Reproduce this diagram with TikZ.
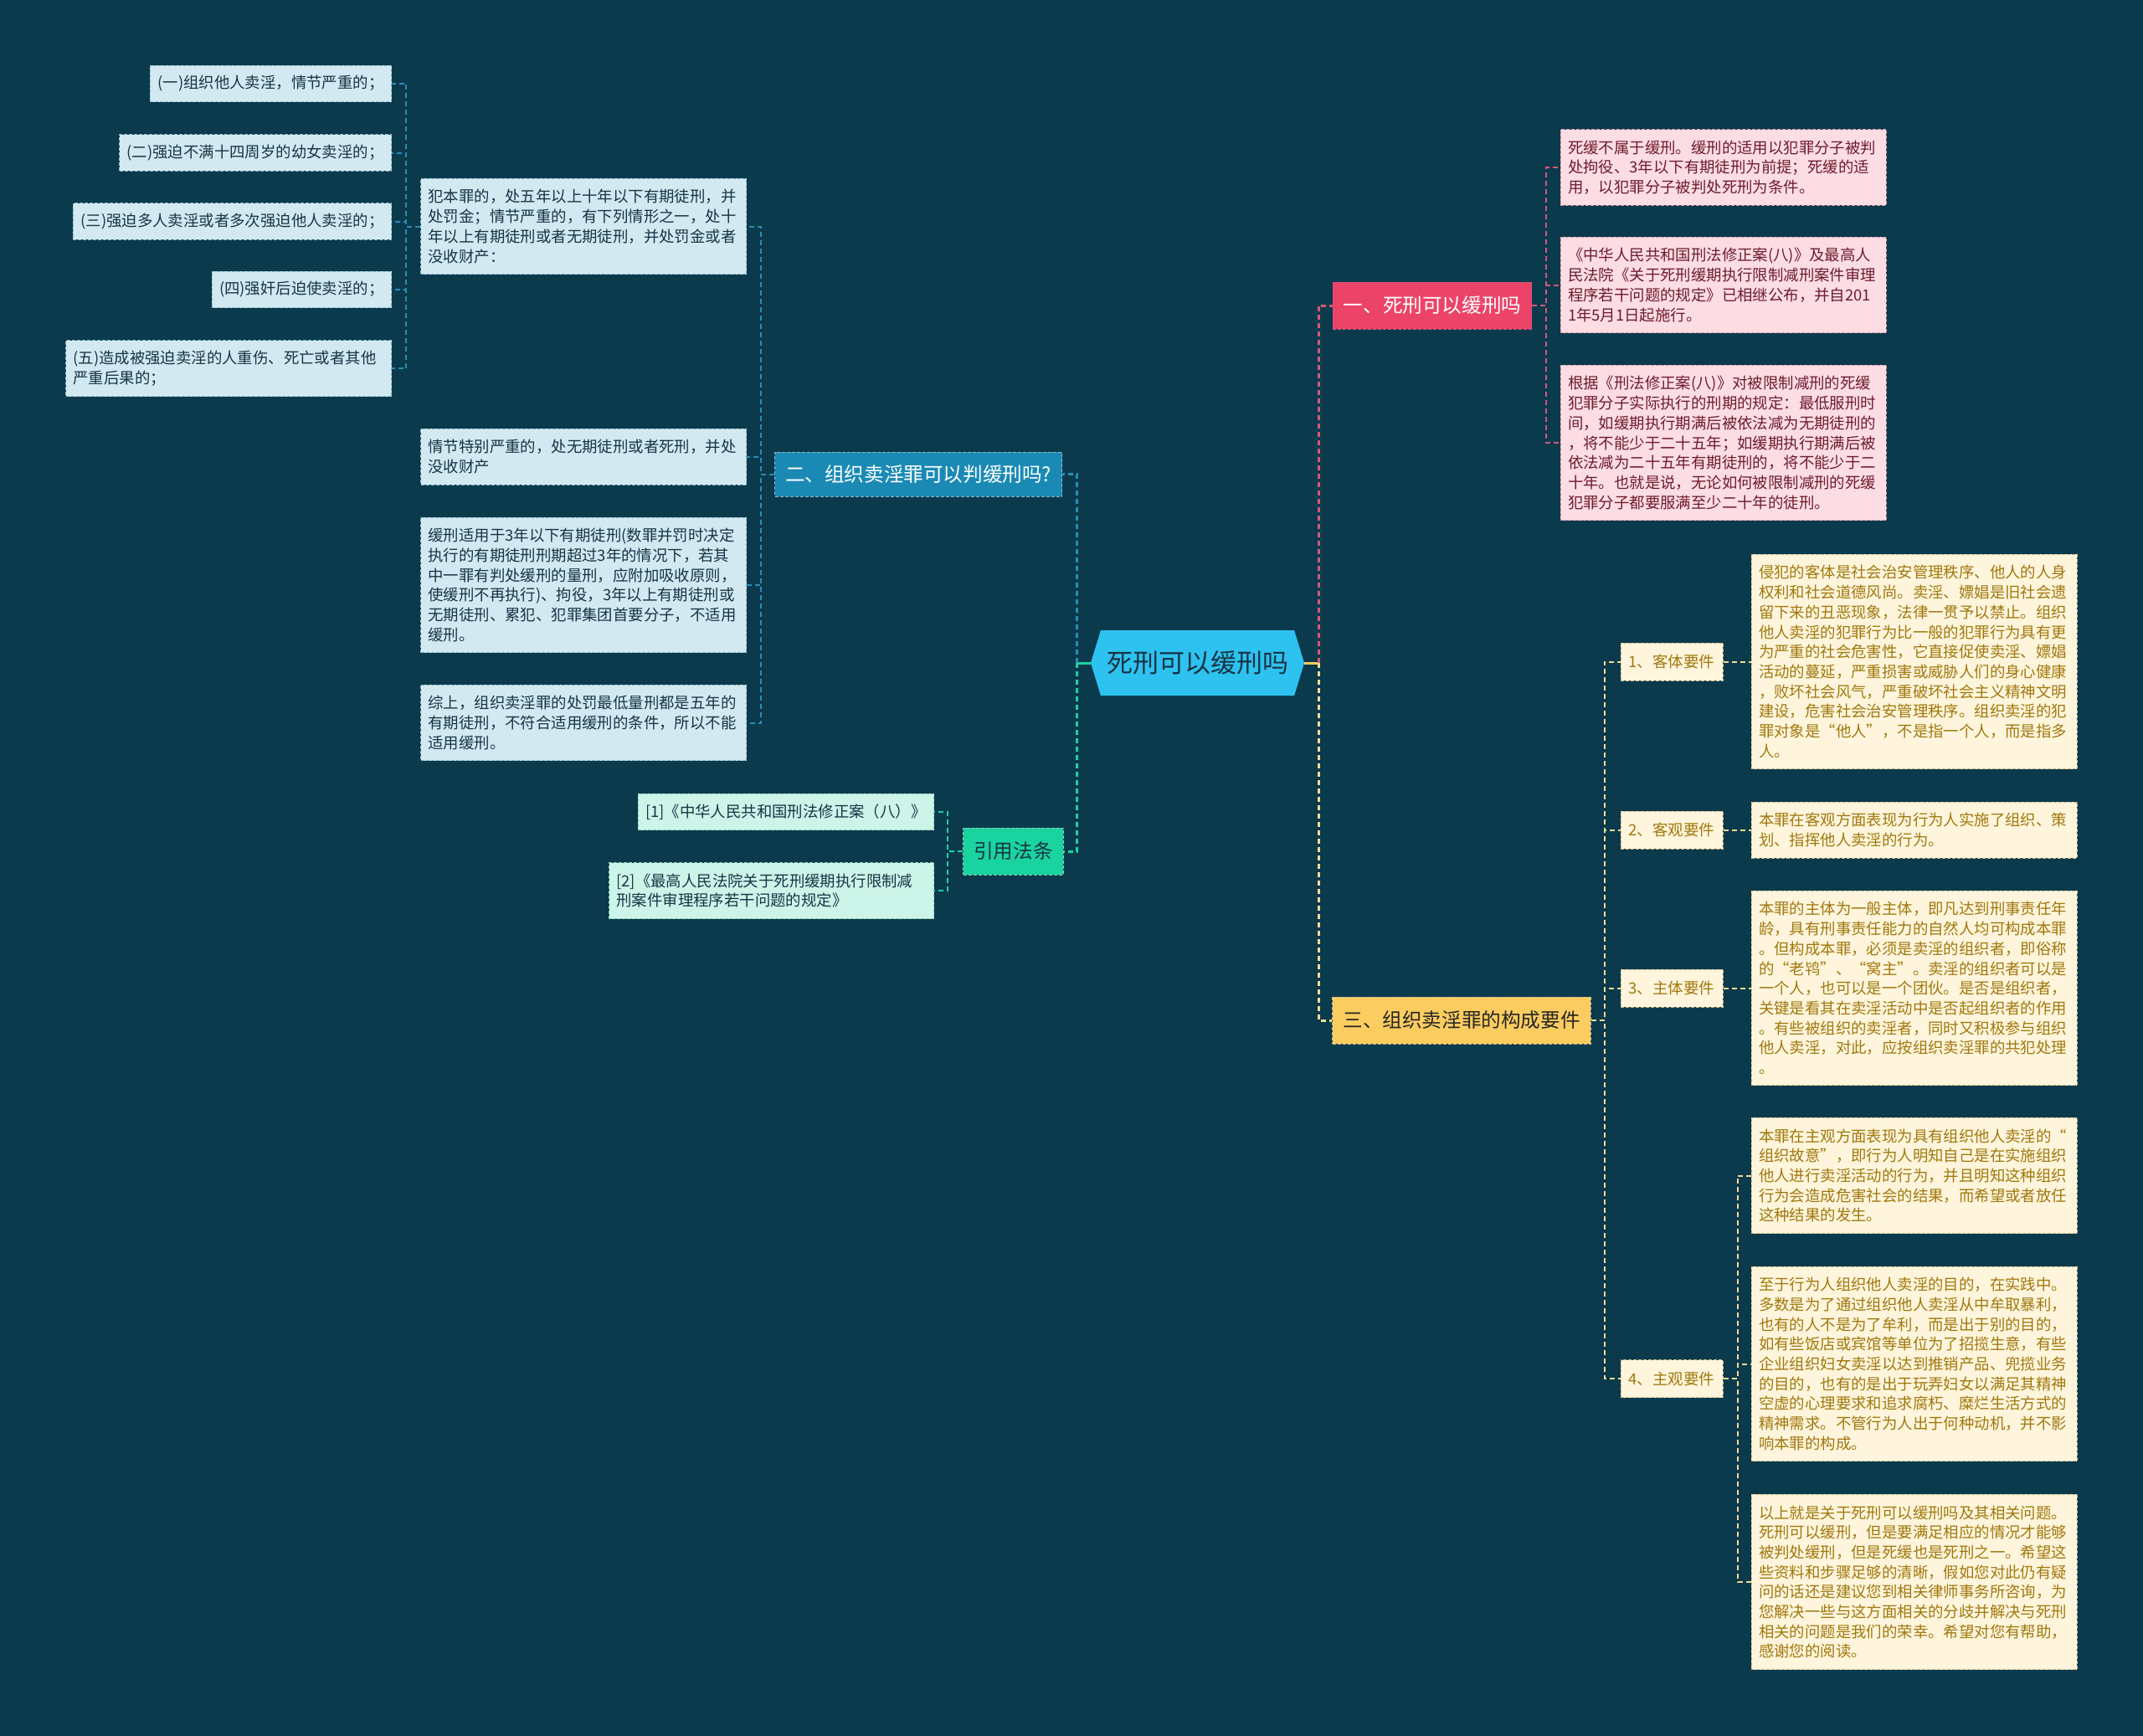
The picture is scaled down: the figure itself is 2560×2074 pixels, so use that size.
\documentclass[tikz,border=0pt]{standalone}
\usepackage{fontspec}
\setmainfont{Noto Sans CJK SC}
\usetikzlibrary{shapes.symbols}
\definecolor{bgteal}{HTML}{0B3A4D}
\definecolor{rootblue}{HTML}{2EC2F0}
\definecolor{inkdark}{HTML}{173446}
\definecolor{seablue}{HTML}{1A8AB5}
\definecolor{seapale}{HTML}{D3E9F1}
\definecolor{seaedge}{HTML}{8DB9CA}
\definecolor{sealine}{HTML}{2A8DB5}
\definecolor{mintgreen}{HTML}{19D49E}
\definecolor{mintpale}{HTML}{CDF4E8}
\definecolor{mintedge}{HTML}{86CDB6}
\definecolor{rosered}{HTML}{EC4468}
\definecolor{rosepale}{HTML}{FCDDE3}
\definecolor{roseedge}{HTML}{D998A8}
\definecolor{roseink}{HTML}{6E1B2E}
\definecolor{roseline}{HTML}{D9577A}
\definecolor{goldnode}{HTML}{FBCC5F}
\definecolor{goldpale}{HTML}{FFF5DC}
\definecolor{goldedge}{HTML}{CDB98A}
\definecolor{goldink}{HTML}{A0780E}
\definecolor{goldline}{HTML}{F3DC93}

\begin{document}
\begin{tikzpicture}[x=1pt,y=-1pt,
    every node/.style={inner sep=0pt},
    card/.style={draw, dash pattern=on 4pt off 2pt, line width=1pt, align=left,
      inner xsep=9pt, font=\fontsize{18.4pt}{23.7pt}\selectfont},
    nl/.style={minimum height=19.6pt+#1*23.7pt},
    seacard/.style={card, fill=seapale, draw=seaedge, text=inkdark},
    mintcard/.style={card, fill=mintpale, draw=mintedge, text=inkdark},
    rosecard/.style={card, fill=rosepale, draw=roseedge, text=roseink, text width=371pt},
    goldcard/.style={card, fill=goldpale, draw=goldedge, text=goldink, text width=371pt},
    branch/.style={draw, dash pattern=on 4pt off 2pt, line width=1pt, inner xsep=12.5pt,
      minimum height=56pt, font=\fontsize{23.6pt}{28pt}\selectfont},
    subnode/.style={draw=goldedge, fill=goldpale, text=goldink, dash pattern=on 4pt off 2pt,
      line width=1pt, minimum width=122pt, minimum height=45pt, font=\fontsize{18.5pt}{22pt}\selectfont},
    link/.style={dash pattern=on 6pt off 4pt, line width=2pt}]
  \useasboundingbox (0,0) rectangle (2560,2074);
  \fill[bgteal] (0,0) rectangle (2560,2074);

  % root
  \node[signal, signal to=east and west, signal pointer angle=146, fill=rootblue, text=inkdark,
    minimum width=255pt, minimum height=78pt, font=\fontsize{31pt}{36pt}\selectfont]
    (root) at (1430.5,792) {死刑可以缓刑吗};

  % branches
  \node[branch, fill=rosered, draw=roseline, text=white] (sec1) at (1711,365) {一、死刑可以缓刑吗};
  \node[branch, fill=seablue, draw=seaedge, text=white, minimum height=53pt] (sec2) at (1097,566.5) {二、组织卖淫罪可以判缓刑吗?};
  \node[branch, fill=goldnode, draw=goldedge, text=black!85] (sec3) at (1746,1219) {三、组织卖淫罪的构成要件};
  \node[branch, fill=mintgreen, draw=mintedge, text=inkdark] (refs) at (1210.5,1017) {引用法条};

  % branch two
  \node[seacard, text width=371pt, nl=4] (pen1) at (697,270.5) {犯本罪的，处五年以上十年以下有期徒刑，并\\处罚金；情节严重的，有下列情形之一，处十\\年以上有期徒刑或者无期徒刑，并处罚金或者\\没收财产：};
  \node[seacard, text width=371pt, nl=2] (pen2) at (697,545.5) {情节特别严重的，处无期徒刑或者死刑，并处\\没收财产};
  \node[seacard, text width=371pt, nl=6] (pen3) at (697,699) {缓刑适用于3年以下有期徒刑(数罪并罚时决定\\执行的有期徒刑刑期超过3年的情况下，若其\\中一罪有判处缓刑的量刑，应附加吸收原则，\\使缓刑不再执行)、拘役，3年以上有期徒刑或\\无期徒刑、累犯、犯罪集团首要分子，不适用\\缓刑。};
  \node[seacard, text width=371pt, nl=3] (pen4) at (697,863.5) {综上，组织卖淫罪的处罚最低量刑都是五年的\\有期徒刑，不符合适用缓刑的条件，所以不能\\适用缓刑。};
  \node[seacard, nl=1, anchor=east] (case1) at (468,100) {(一)组织他人卖淫，情节严重的；};
  \node[seacard, nl=1, anchor=east] (case2) at (468,182.5) {(二)强迫不满十四周岁的幼女卖淫的；};
  \node[seacard, nl=1, anchor=east] (case3) at (468,264.5) {(三)强迫多人卖淫或者多次强迫他人卖淫的；};
  \node[seacard, nl=1, anchor=east] (case4) at (468,346) {(四)强奸后迫使卖淫的；};
  \node[seacard, nl=2, anchor=east, text width=371pt] (case5) at (468,440) {(五)造成被强迫卖淫的人重伤、死亡或者其他\\严重后果的；};

  % references
  \node[mintcard, nl=1, anchor=east] (law1) at (1116,970) {[1]《中华人民共和国刑法修正案（八）》};
  \node[mintcard, nl=2, anchor=east, text width=370pt] (law2) at (1116,1064) {[2]《最高人民法院关于死刑缓期执行限制减\\刑案件审理程序若干问题的规定》};

  % branch one
  \node[rosecard, nl=3] (why1) at (2058.5,200) {死缓不属于缓刑。缓刑的适用以犯罪分子被判\\处拘役、3年以下有期徒刑为前提；死缓的适\\用，以犯罪分子被判处死刑为条件。};
  \node[rosecard, nl=4] (why2) at (2058.5,340.5) {《中华人民共和国刑法修正案(八)》及最高人\\民法院《关于死刑缓期执行限制减刑案件审理\\程序若干问题的规定》已相继公布，并自201\\1年5月1日起施行。};
  \node[rosecard, nl=7] (why3) at (2058.5,529) {根据《刑法修正案(八)》对被限制减刑的死缓\\犯罪分子实际执行的刑期的规定：最低服刑时\\间，如缓期执行期满后被依法减为无期徒刑的\\，将不能少于二十五年；如缓期执行期满后被\\依法减为二十五年有期徒刑的，将不能少于二\\十年。也就是说，无论如何被限制减刑的死缓\\犯罪分子都要服满至少二十年的徒刑。};

  % branch three
  \node[subnode] (req1) at (1997,790.5) {1、客体要件};
  \node[subnode] (req2) at (1997,991.5) {2、客观要件};
  \node[subnode] (req3) at (1997,1180.5) {3、主体要件};
  \node[subnode] (req4) at (1997,1647) {4、主观要件};
  \node[goldcard, nl=10] (obj) at (2286.5,790.5) {侵犯的客体是社会治安管理秩序、他人的人身\\权利和社会道德风尚。卖淫、嫖娼是旧社会遗\\留下来的丑恶现象，法律一贯予以禁止。组织\\他人卖淫的犯罪行为比一般的犯罪行为具有更\\为严重的社会危害性，它直接促使卖淫、嫖娼\\活动的蔓延，严重损害或威胁人们的身心健康\\，败坏社会风气，严重破坏社会主义精神文明\\建设，危害社会治安管理秩序。组织卖淫的犯\\罪对象是“他人”，不是指一个人，而是指多\\人。};
  \node[goldcard, nl=2] (act) at (2286.5,991.5) {本罪在客观方面表现为行为人实施了组织、策\\划、指挥他人卖淫的行为。};
  \node[goldcard, nl=9] (subj) at (2286.5,1180.5) {本罪的主体为一般主体，即凡达到刑事责任年\\龄，具有刑事责任能力的自然人均可构成本罪\\。但构成本罪，必须是卖淫的组织者，即俗称\\的“老鸨”、“窝主”。卖淫的组织者可以是\\一个人，也可以是一个团伙。是否是组织者，\\关键是看其在卖淫活动中是否起组织者的作用\\。有些被组织的卖淫者，同时又积极参与组织\\他人卖淫，对此，应按组织卖淫罪的共犯处理\\。};
  \node[goldcard, nl=5] (mind1) at (2286.5,1404.5) {本罪在主观方面表现为具有组织他人卖淫的“\\组织故意”，即行为人明知自己是在实施组织\\他人进行卖淫活动的行为，并且明知这种组织\\行为会造成危害社会的结果，而希望或者放任\\这种结果的发生。};
  \node[goldcard, nl=9] (mind2) at (2286.5,1629.5) {至于行为人组织他人卖淫的目的，在实践中。\\多数是为了通过组织他人卖淫从中牟取暴利，\\也有的人不是为了牟利，而是出于别的目的，\\如有些饭店或宾馆等单位为了招揽生意，有些\\企业组织妇女卖淫以达到推销产品、兜揽业务\\的目的，也有的是出于玩弄妇女以满足其精神\\空虚的心理要求和追求腐朽、糜烂生活方式的\\精神需求。不管行为人出于何种动机，并不影\\响本罪的构成。};
  \node[goldcard, nl=8] (mind3) at (2286.5,1890) {以上就是关于死刑可以缓刑吗及其相关问题。\\死刑可以缓刑，但是要满足相应的情况才能够\\被判处缓刑，但是死缓也是死刑之一。希望这\\些资料和步骤足够的清晰，假如您对此仍有疑\\问的话还是建议您到相关律师事务所咨询，为\\您解决一些与这方面相关的分歧并解决与死刑\\相关的问题是我们的荣幸。希望对您有帮助，\\感谢您的阅读。};

  % connectors from the root
  \draw[goldnode, line width=3pt] (root.east) -- ++(17,0) coordinate (rj);
  \draw[mintgreen, line width=3pt] (root.west) -- ++(-16,0) coordinate (lj);
  \draw[roseline, link, line width=3pt] (rj) |- (sec1.west);
  \draw[goldline, link, line width=3pt] (rj) |- (sec3.west);
  \draw[sealine, link, line width=3pt] (lj) |- (sec2.east);
  \draw[mintgreen, link, line width=3pt] (lj) |- (refs.east);

  % connectors inside the branches
  \foreach \c in {why1,why2,why3}
    \draw[roseline, link] (sec1.east) -- ++(17,0) |- (\c.west);
  \foreach \c in {pen1,pen2,pen3,pen4}
    \draw[sealine, link] (sec2.west) -- ++(-16,0) |- (\c.east);
  \foreach \c in {case1,case2,case3,case4,case5}
    \draw[sealine, link] (pen1.west) -- ++(-17,0) |- (\c.east);
  \foreach \c in {law1,law2}
    \draw[mintgreen, link] (refs.west) -- ++(-18,0) |- (\c.east);
  \foreach \c in {req1,req2,req3,req4}
    \draw[goldline, link] (sec3.east) -- ++(16,0) |- (\c.west);
  \draw[goldline, link] (req1) -- (obj);
  \draw[goldline, link] (req2) -- (act);
  \draw[goldline, link] (req3) -- (subj);
  \foreach \c in {mind1,mind2,mind3}
    \draw[goldline, link] (req4.east) -- ++(17,0) |- (\c.west);
\end{tikzpicture}
\end{document}
